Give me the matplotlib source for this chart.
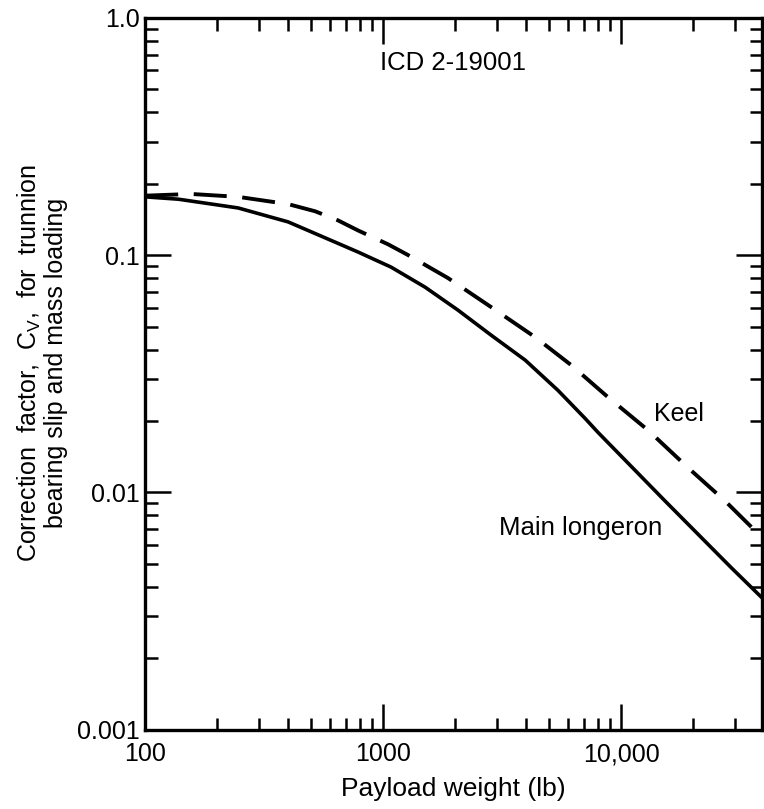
import matplotlib.pyplot as plt
from matplotlib.ticker import LogLocator, FixedLocator, NullFormatter

plt.rcParams['font.family'] = ['Liberation Sans', 'DejaVu Sans']

# Main longeron (solid)
main_x = [100, 138, 246, 399, 647, 785, 1080, 1500, 2065, 2843, 3954, 5434, 7063,
          8000, 15310, 28970, 39080]
main_y = [0.176, 0.172, 0.158, 0.138, 0.112, 0.103, 0.089, 0.0733, 0.0586, 0.0460,
          0.0361, 0.0269, 0.0205, 0.0179, 0.0092, 0.00483, 0.0036]

# Keel (dashed)
keel_x = [100, 156, 246, 399, 518, 647, 785, 1050, 1274, 1875, 2843, 4355, 6170,
          8810, 12970, 19130, 27370, 39080]
keel_y = [0.178, 0.181, 0.176, 0.164, 0.153, 0.140, 0.127, 0.111, 0.100, 0.080,
          0.0604, 0.0451, 0.0344, 0.0252, 0.0183, 0.0127, 0.0092, 0.00646]

x_ticks = [100, 1000, 10000]
x_ticklabels = ["100", "1000", "10,000"]
y_ticks = [0.001, 0.01, 0.1, 1.0]
y_ticklabels = ["0.001", "0.01", "0.1", "1.0"]

fig = plt.figure(figsize=(7.64, 8.09), dpi=100)
ax = fig.add_axes([0.190, 0.098, 0.807, 0.880])

ax.plot(main_x, main_y, color="black", lw=2.6)
ax.plot(keel_x, keel_y, color="black", lw=2.8, dashes=(8.5, 4))

ax.set_xscale("log")
ax.set_yscale("log")
ax.set_xlim(100, 39000)
ax.set_ylim(0.001, 1.0)

ax.xaxis.set_major_locator(FixedLocator(x_ticks))
ax.set_xticklabels(x_ticklabels)
ax.yaxis.set_major_locator(FixedLocator(y_ticks))
ax.set_yticklabels(y_ticklabels)
ax.xaxis.set_minor_locator(LogLocator(base=10, subs=range(2, 10)))
ax.yaxis.set_minor_locator(LogLocator(base=10, subs=range(2, 10)))
ax.xaxis.set_minor_formatter(NullFormatter())
ax.yaxis.set_minor_formatter(NullFormatter())

ax.tick_params(which="both", direction="in", top=True, right=True, width=1.8,
               labelsize=18)
ax.tick_params(which="major", length=19)
ax.tick_params(which="minor", length=9)
ax.tick_params(axis="x", which="both", pad=9)
ax.tick_params(axis="y", which="both", pad=4)

for s in ax.spines.values():
    s.set_linewidth(2.4)

ax.set_xlabel("Payload weight (lb)", fontsize=19, labelpad=8)
ax.set_ylabel("Correction  factor,  C$_\\mathregular{V}$,  for  trunnion\nbearing slip and mass loading",
              fontsize=18, linespacing=1.05)
ax.yaxis.set_label_coords(-0.125, 0.515)

ax.text(1970, 0.646, "ICD 2-19001", fontsize=18.5, ha="center", va="center")
ax.text(17500, 0.0215, "Keel", fontsize=18, ha="center", va="center")
ax.text(6790, 0.0071, "Main longeron", fontsize=18.5, ha="center", va="center")

fig.savefig("out.png", dpi=100)
